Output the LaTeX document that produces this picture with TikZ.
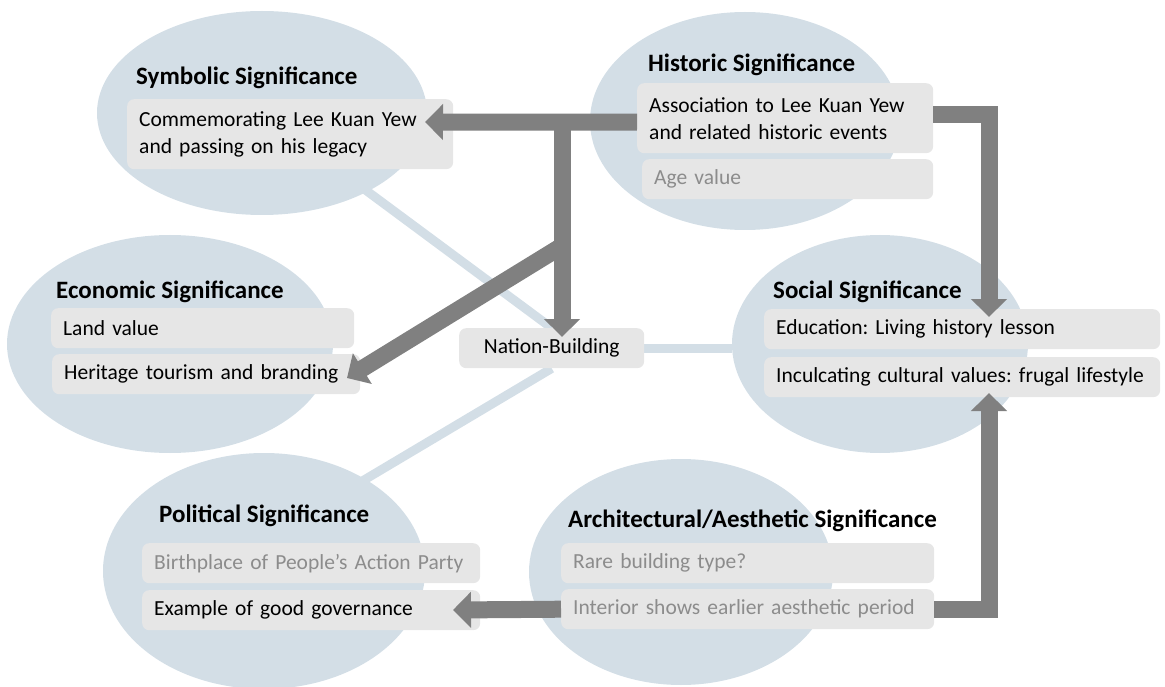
\documentclass[tikz,border=0pt]{standalone}
\usepackage{fontspec}
\setmainfont{Carlito}
\usepackage{tikz}
\usetikzlibrary{arrows.meta,backgrounds,shapes.geometric}

\definecolor{ellblue}{RGB}{211,222,230}
\definecolor{boxgray}{RGB}{230,230,230}
\definecolor{arrgray}{RGB}{128,128,128}
\definecolor{softtext}{RGB}{140,140,140}

\newcommand{\bodysize}{\fontsize{21.5}{27}\selectfont}
\newcommand{\headsize}{\fontsize{25}{30}\selectfont\bfseries}
\frenchspacing

\begin{document}
\begin{tikzpicture}[x=1pt,y=-1pt,
  sig/.style={ellipse,fill=ellblue,inner sep=0pt},
  head/.style={anchor=west,inner sep=0pt,font=\headsize},
  item/.style={anchor=north west,rectangle,rounded corners=7pt,fill=boxgray,
    inner xsep=12pt,inner ysep=0pt,align=left,font=\bodysize,
    minimum height=40pt,text width=#1},
  soft/.style={text=softtext},
  hub/.style={anchor=north west,rectangle,rounded corners=7pt,fill=boxgray,
    font=\bodysize,minimum width=185pt,minimum height=40pt},
  link/.style={draw=ellblue,line width=9pt},
  push/.style={draw=arrgray,line width=17pt,-{Triangle[width=35pt,length=18pt]}}]

 \useasboundingbox (0,0) rectangle (1165,687);

 % headings
 \draw (136,78) node[head] (symT) {Symbolic Significance};
 \draw (648,65) node[head] (hisT) {Historic Significance};
 \draw (56,292) node[head] (ecoT) {Economic Significance};
 \draw (773,292) node[head] (socT) {Social Significance};
 \draw (159,516) node[head] (polT) {Political Significance};
 \draw (568,521) node[head] (arcT) {Architectural/Aesthetic Significance};

 % value boxes
 \draw (127,99) node[item=302pt,minimum height=70pt] (sym1) {Commemorating Lee Kuan Yew\\and passing on his legacy};
 \draw (637,83) node[item=272pt,minimum height=70pt] (hist1) {Association to Lee Kuan Yew\\and related historic events};
 \draw (642,159) node[item=267pt,soft] (hist2) {Age value};
 \draw (51,308) node[item=279pt] (eco1) {Land value};
 \draw (52,354) node[item=284pt] (eco2) {Heritage tourism and branding};
 \draw (459,328) node[hub] (nat) {Nation-Building};
 \draw (764,309) node[item=372pt] (soc1) {Education: Living history lesson};
 \draw (764,357) node[item=372pt] (soc2) {Inculcating cultural values: frugal lifestyle};
 \draw (142,543) node[item=314pt,soft] (pol1) {Birthplace of People’s Action Party};
 \draw (142,590) node[item=314pt] (pol2) {Example of good governance};
 \draw (561,543) node[item=349pt,soft] (arc1) {Rare building type?};
 \draw (561,589) node[item=349pt,soft] (arc2) {Interior shows earlier aesthetic period};

 % ellipses and links behind
 \begin{scope}[on background layer]
  \node[sig,minimum width=330pt,minimum height=204pt] (symE) at (262,113) {};
  \node[sig,minimum width=310pt,minimum height=218pt] (hisE) at (745,121) {};
  \node[sig,minimum width=326pt,minimum height=218pt] (ecoE) at (170,344) {};
  \node[sig,minimum width=296pt,minimum height=218pt] (socE) at (880,344) {};
  \node[sig,minimum width=322pt,minimum height=236pt] (polE) at (264,571) {};
  \node[sig,minimum width=304pt,minimum height=226pt] (arcE) at (681,572) {};
  \coordinate (polhub) at (280,530);
  \draw[link] (sym1.center) -- (nat.north);
  \draw[link] (nat.south) -- (polhub);
  \draw[link] (nat.east) -- (socE.west |- nat.east);
 \end{scope}

 % influence arrows
 \coordinate (symtip) at (425,122);
 \coordinate (fork) at (562,122);
 \coordinate (nattip) at (562,337);
 \coordinate (bend) at (562,246);
 \coordinate (ecotip) at (347,378);
 \coordinate (socin) at (989,317);
 \coordinate (socup) at (989,393);
 \coordinate (poltip) at (453,610);

 \draw[push] ([yshift=-4pt]hist1.west) -- (symtip);
 \draw[push] (fork) -- (nattip);
 \draw[push] (bend) -- (ecotip);
 \draw[push] ([yshift=4pt]hist1.east) -| (socin);
 \draw[push] (arc2.east) -| (socup);
 \draw[push] (arc2.west) -- (poltip);

\end{tikzpicture}
\end{document}
